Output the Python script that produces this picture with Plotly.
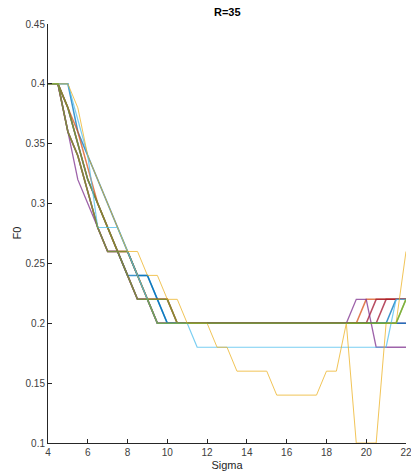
import plotly.graph_objects as go

sigma = [4 + 0.5 * i for i in range(37)]

blue1 = [0.40, 0.40, 0.40, 0.36, 0.34, 0.32, 0.30, 0.28, 0.26, 0.24, 0.24, 0.22, 0.20] + [0.20] * 22 + [0.22, 0.22]
orange1 = [0.40, 0.40, 0.38, 0.36, 0.33, 0.30, 0.28, 0.26, 0.26, 0.24, 0.22, 0.22, 0.22, 0.20] + [0.20] * 18 + [0.22] * 5
yellow1 = [0.40, 0.40, 0.40, 0.38, 0.34, 0.32, 0.30, 0.28, 0.26, 0.26,
           0.24, 0.24, 0.22, 0.22, 0.20, 0.20, 0.20, 0.18, 0.18, 0.16,
           0.16, 0.16, 0.16, 0.14, 0.14, 0.14, 0.14, 0.14, 0.16, 0.16,
           0.20, 0.10, 0.10, 0.10, 0.20, 0.20, 0.26]
purple1 = [0.40, 0.40, 0.36, 0.32, 0.30, 0.28, 0.26, 0.26, 0.24, 0.22, 0.22, 0.20] + [0.20] * 19 + [0.22, 0.22] + [0.18] * 4
green1 = [0.40, 0.40, 0.36, 0.34, 0.31, 0.28, 0.26, 0.26, 0.24, 0.22, 0.22, 0.20] + [0.20] * 24 + [0.22]
cyan1 = [0.40, 0.40, 0.40, 0.37, 0.34, 0.28, 0.28, 0.28, 0.26, 0.24, 0.22, 0.20, 0.20, 0.20, 0.20] + [0.18] * 20 + [0.22, 0.22]
darkred1 = [0.40, 0.40, 0.38, 0.35, 0.32, 0.30, 0.28, 0.26, 0.26, 0.24, 0.22, 0.22, 0.22, 0.20] + [0.20] * 19 + [0.22] * 4
blue2 = [0.40, 0.40, 0.38, 0.35, 0.32, 0.30, 0.28, 0.26, 0.24, 0.24, 0.24, 0.22, 0.20] + [0.20] * 24
red2 = [0.40, 0.40, 0.36, 0.34, 0.31, 0.28, 0.26, 0.26, 0.24, 0.22, 0.22, 0.20] + [0.20] * 22 + [0.22] * 3
purple2 = [0.40, 0.40, 0.36, 0.34, 0.31, 0.28, 0.26, 0.26, 0.24, 0.22, 0.22, 0.20] + [0.20] * 25
green2 = [0.40, 0.40, 0.38, 0.35, 0.32, 0.30, 0.28, 0.26, 0.26, 0.24, 0.22, 0.22, 0.22, 0.20] + [0.20] * 22 + [0.22]

series = [
    (purple2, "#7E2F8E", 1.5),
    (blue2, "#0072BD", 1.5),
    (red2, "#A2142F", 1.5),
    (blue1, "#0072BD", 1.5),
    (orange1, "#D95319", 1.5),
    (darkred1, "#A2142F", 1.5),
    (green2, "#77AC30", 1.5),
    (purple1, "#7E2F8E", 1.3),
    (cyan1, "#4DBEEE", 1.2),
    (yellow1, "#EDB120", 1.0),
    (green1, "#77AC30", 1.5),
]

fig = go.Figure()
for vals, col, w in series:
    fig.add_trace(go.Scatter(x=sigma, y=vals, mode="lines",
                             line=dict(color=col, width=w), opacity=0.75,
                             showlegend=False, hoverinfo="skip"))

axis_common = dict(showgrid=False, zeroline=False, showline=True, linecolor="#262626",
                   linewidth=1, ticks="inside", ticklen=4, tickcolor="#262626",
                   ticklabeloverflow="allow", automargin=False,
                   tickfont=dict(family="Liberation Sans, Arial", size=10, color="#404040"),
                   mirror=False)

fig.update_layout(
    width=411, height=475,
    margin=dict(l=48, r=5, t=24, b=32),
    plot_bgcolor="white", paper_bgcolor="white",
    title=dict(text="<b>R=35</b>", x=0.553, xanchor="center", y=0.975, yanchor="middle",
               font=dict(family="Liberation Sans, Arial", size=11, color="#000000")),
    xaxis=dict(range=[4, 22], tickvals=[4, 6, 8, 10, 12, 14, 16, 18, 20, 22],
               title=dict(text="Sigma", standoff=4,
                          font=dict(family="Liberation Sans, Arial", size=11, color="#262626")),
               **axis_common),
    yaxis=dict(range=[0.1, 0.45], tickvals=[0.1, 0.15, 0.2, 0.25, 0.3, 0.35, 0.4, 0.45],
               ticktext=["0.1", "0.15", "0.2", "0.25", "0.3", "0.35", "0.4", "0.45"],
               **axis_common),
    annotations=[dict(text="F0", xref="paper", yref="paper", x=0, y=0.5,
                      xshift=-40, textangle=-90, showarrow=False,
                      font=dict(family="Liberation Sans, Arial", size=11, color="#262626"))],
)

fig.write_html("out.html")
